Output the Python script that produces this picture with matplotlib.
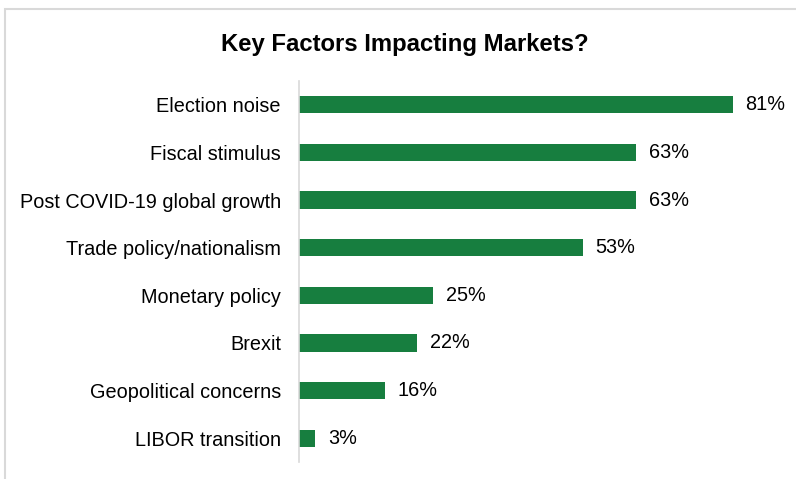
import matplotlib.pyplot as plt
from matplotlib.patches import Rectangle

plt.rcParams['font.family'] = ['Liberation Sans', 'DejaVu Sans']

factors = ['Election noise', 'Fiscal stimulus', 'Post COVID-19 global growth',
           'Trade policy/nationalism', 'Monetary policy', 'Brexit',
           'Geopolitical concerns', 'LIBOR transition']
shares = [81, 63, 63, 53, 25, 22, 16, 3]

W, H = 796, 479
fig = plt.figure(figsize=(W / 100, H / 100), dpi=100)

# light frame around the chart area
fig.patches.append(Rectangle((5 / W, -0.05), 1.1, 1 - 9 / H + 0.05,
                             transform=fig.transFigure, fill=False,
                             edgecolor='#d9d9d9', linewidth=1.5))

ax = fig.add_axes([299 / W, 1 - 462 / H, 471 / W, 381 / H])
y = range(len(factors))
ax.barh(y, shares, height=0.36, color='#177e3f')
for yi, v in zip(y, shares):
    ax.text(v + 2.4, yi, f'{v}%', va='center', ha='left', fontsize=14.3)

ax.set_ylim(len(factors) - 0.5, -0.5)
ax.set_xlim(0, 88)
ax.set_yticks(list(y))
ax.set_yticklabels(factors, fontsize=14.3)
ax.tick_params(axis='y', length=0, pad=13)
ax.set_xticks([])
for s in ['top', 'right', 'bottom']:
    ax.spines[s].set_visible(False)
ax.spines['left'].set_color('#d9d9d9')
ax.spines['left'].set_linewidth(1.2)

fig.text(405 / W, 1 - 45 / H, 'Key Factors Impacting Markets?',
         ha='center', va='center', fontsize=17.2, fontweight='bold')

fig.savefig('out.png', dpi=100)
